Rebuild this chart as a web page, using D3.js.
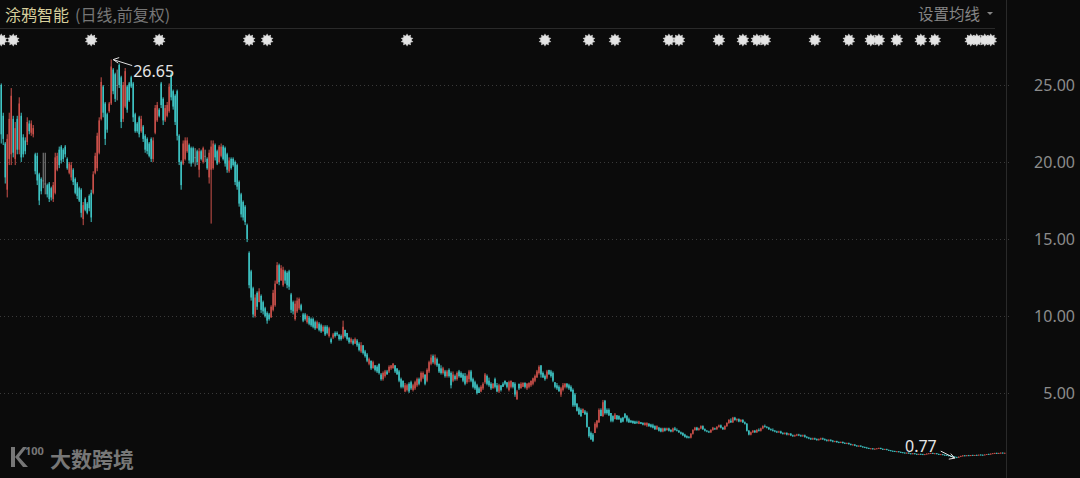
<!DOCTYPE html>
<html><head><meta charset="utf-8">
<script src="https://cdn.jsdelivr.net/npm/d3@7"></script>
<style>html,body{margin:0;padding:0;background:#0b0b0b;overflow:hidden}</style>
</head><body><svg id="c" width="1080" height="478"></svg>
<script>
const titleName = "涂鸦智能";
const titleNote = "(日线,前复权)";
const maSetting = "设置均线";
const watermark = "大数跨境";
const yTickValues = [5, 10, 15, 20, 25];
// candle indices carrying an event marker
const eventIdx = [0, 6, 45, 79, 124, 133, 203, 272, 294, 307, 334, 339, 359, 371, 378, 382, 407, 424, 435, 439, 448, 460, 467, 485, 488, 492, 495];
// daily candles: [open, high, low, close]
const candles = [
[25.0,25.1,21.2,21.8],[23.0,23.2,21.1,21.5],[21.2,21.3,18.6,19.0],[18.2,21.8,17.7,21.5],[20.2,23.2,19.8,22.8],
[20.5,24.8,19.8,24.3],[22.8,23.0,20.3,20.6],[20.2,22.6,19.8,22.2],[22.8,23.0,20.5,20.8],[20.8,24.2,20.5,23.8],
[23.0,23.2,20.0,20.3],[21.6,21.8,20.3,20.5],[21.4,21.6,20.5,20.7],[21.3,22.9,21.1,22.6],[22.5,22.7,21.8,22.0],
[21.9,22.7,21.7,22.5],[21.8,22.4,21.6,22.2],[20.5,20.6,19.2,19.4],[20.4,20.6,18.5,18.8],[19.2,19.3,17.2,17.5],
[18.9,19.0,17.9,18.1],[18.8,20.6,18.3,18.8],[18.6,20.6,17.9,18.6],[18.5,18.6,17.7,17.9],[18.6,18.7,17.4,17.6],
[18.3,18.4,17.5,17.7],[17.6,18.7,17.4,18.5],[18.0,20.6,17.9,20.3],[19.5,20.6,19.4,20.4],[20.8,21.0,19.6,19.8],
[21.0,21.1,19.9,20.1],[20.8,20.9,20.0,20.2],[21.0,21.1,20.3,20.5],[20.2,20.3,19.5,19.6],[19.3,20.0,19.2,19.9],
[19.0,20.0,18.8,19.8],[19.5,19.6,18.5,18.7],[18.9,19.0,17.9,18.0],[18.6,18.7,17.6,17.8],[18.3,18.4,17.4,17.5],
[18.2,18.3,16.4,16.7],[16.3,17.4,15.9,17.2],[17.6,17.7,16.8,16.9],[17.3,17.4,16.6,16.7],[17.8,17.9,16.8,17.0],
[18.0,18.2,16.1,16.4],[18.0,19.4,17.9,19.2],[19.3,20.6,19.2,20.4],[19.6,21.9,19.4,21.7],[20.6,22.9,20.5,22.7],
[22.8,25.5,22.7,25.2],[24.9,25.0,22.9,23.2],[23.8,23.9,21.1,21.5],[23.1,23.2,21.9,22.1],[23.3,23.9,23.2,23.8],
[23.8,26.65,23.7,26.2],[26.0,26.1,24.4,24.6],[25.7,25.8,23.9,24.1],[25.0,26.0,24.0,25.0],[26.3,26.4,24.8,25.0],
[25.5,25.6,22.2,22.6],[22.8,25.2,22.6,25.0],[23.6,26.1,23.5,25.9],[24.9,25.0,23.2,23.4],[25.1,25.2,23.9,24.0],
[25.5,25.6,24.8,24.9],[25.1,25.2,22.6,22.9],[23.1,23.2,21.9,22.0],[22.5,22.6,21.9,22.0],[22.9,23.0,21.6,21.8],
[22.0,23.0,21.9,22.8],[22.3,22.4,21.3,21.5],[21.7,21.8,20.6,20.8],[21.5,21.6,20.5,20.7],[21.2,21.3,20.3,20.4],
[21.5,21.6,20.0,20.2],[20.2,21.6,20.0,21.4],[21.9,23.7,21.8,23.5],[22.7,23.9,22.6,23.7],[23.4,23.5,22.9,23.0],
[25.1,25.2,23.5,23.7],[24.1,24.2,22.4,22.7],[22.7,23.7,22.6,23.5],[23.0,23.9,22.9,23.7],
[23.3,25.1,23.2,24.9],[25.7,25.8,24.0,24.2],[24.6,24.7,23.4,23.6],[24.3,24.4,22.4,22.6],[24.6,24.7,21.4,21.7],
[21.7,21.8,19.8,20.0],[20.0,20.1,18.2,18.5],[19.9,21.4,19.8,21.2],[20.2,21.6,20.1,21.4],[20.7,21.6,20.6,21.4],
[21.1,21.2,19.9,20.1],[20.9,21.0,19.7,19.9],[20.9,21.0,19.9,20.0],[20.3,20.9,19.7,20.3],[20.7,20.8,19.8,20.0],
[19.5,20.9,19.0,20.7],[20.7,20.8,20.1,20.2],[20.0,21.0,19.9,20.9],[20.4,20.8,20.0,20.4],[20.2,20.3,19.5,19.6],
[19.0,20.8,18.6,20.6],[19.5,21.4,16.0,21.0],[19.6,21.4,19.5,21.2],[21.1,21.2,20.1,20.3],[20.7,20.8,19.8,19.9],
[20.0,21.1,19.9,21.0],[20.4,21.2,20.3,21.0],[21.0,21.1,20.1,20.2],[20.9,21.0,19.7,19.9],[20.5,20.6,19.3,19.5],
[19.4,20.3,19.3,20.1],[20.2,20.3,19.5,19.6],[20.2,20.3,19.7,19.8],[20.0,20.1,18.5,18.7],[19.8,19.9,18.2,18.4],
[18.7,18.8,17.1,17.3],[17.9,18.0,16.4,16.6],[17.4,17.5,16.2,16.4],[17.1,17.2,15.9,16.1],[15.9,16.0,14.8,15.0],
[14.1,14.2,11.8,12.0],[12.9,13.0,11.0,11.2],[11.8,11.9,9.9,10.1],[10.0,11.4,9.9,11.2],[11.5,11.6,10.4,10.6],
[10.9,11.8,10.9,11.6],[11.3,11.4,10.2,10.4],[10.9,11.0,10.1,10.3],[10.5,10.6,9.9,10.0],[10.2,10.3,9.5,9.7],
[10.1,10.2,9.7,9.8],[9.9,10.7,9.9,10.6],[10.4,11.7,10.3,11.5],[10.7,12.3,10.6,12.1],[12.1,13.5,12.1,13.3],
[13.3,13.4,12.0,12.2],[12.3,13.3,12.3,13.1],[12.0,13.2,11.9,13.0],[12.9,13.0,12.1,12.3],[12.8,12.9,11.8,12.0],
[12.9,13.0,11.7,11.9],[11.4,11.5,10.2,10.4],[10.9,11.0,10.1,10.3],[9.8,11.0,9.7,10.8],[10.3,11.2,10.2,11.0],
[10.5,11.2,10.4,11.1],[10.7,10.8,10.3,10.4],[10.1,10.2,9.6,9.7],[10.1,10.2,9.7,9.8],[9.6,10.1,9.5,10.0],
[9.9,10.0,9.4,9.5],[9.8,9.9,9.3,9.4],[9.8,9.9,9.2,9.3],[9.6,9.7,9.1,9.2],[9.2,9.7,9.2,9.6],
[9.5,9.6,9.0,9.1],[9.4,9.5,8.9,9.0],[9.0,9.4,9.0,9.3],[9.3,9.4,8.7,8.8],[9.3,9.4,8.8,8.9],
[8.7,9.3,8.6,9.2],
[8.5,8.6,8.2,8.3],[8.6,8.9,8.5,8.8],[8.9,9.0,8.6,8.7],[8.9,9.0,8.7,8.8],[8.8,8.8,8.4,8.5],
[8.7,8.8,8.4,8.5],[8.6,9.7,8.5,9.3],[9.1,9.1,8.6,8.7],[8.9,8.9,8.4,8.5],[8.6,8.6,8.2,8.3],
[8.3,8.6,8.2,8.5],[8.4,8.5,8.1,8.2],[8.2,8.6,8.2,8.5],[8.4,8.5,8.0,8.1],[8.2,8.3,7.7,7.8],
[7.7,8.3,7.6,8.1],[8.1,8.1,7.5,7.6],[7.7,7.8,7.3,7.4],[7.5,7.6,7.0,7.1],[6.9,7.3,6.8,7.2],
[7.1,7.1,6.5,6.6],[6.6,7.1,6.6,7.0],[6.8,6.8,6.4,6.5],[6.7,6.8,6.3,6.4],[6.9,6.9,6.2,6.3],
[6.2,6.3,5.8,5.9],[5.9,6.4,5.8,6.3],[6.1,6.5,6.0,6.4],[6.4,6.5,6.2,6.2],[6.4,6.8,6.3,6.7],
[6.6,6.8,6.5,6.8],[6.6,6.95,6.6,6.9],[6.8,6.8,6.3,6.4],[6.6,6.6,6.2,6.2],[6.4,6.5,5.7,5.8],
[5.9,6.0,5.3,5.4],[5.8,5.8,5.3,5.4],[5.1,5.65,5.05,5.5],[5.2,5.6,5.1,5.5],[5.6,5.7,5.0,5.1],
[5.7,5.8,5.2,5.3],[5.2,5.6,5.1,5.5],[5.3,5.8,5.2,5.7],[5.5,6.0,5.4,5.9],[5.9,6.0,5.5,5.6],
[5.8,6.4,5.7,6.3],[6.0,6.4,5.9,6.3],[6.2,6.2,5.5,5.6],[5.8,6.6,5.7,6.5],[6.4,7.1,6.3,7.0],
[6.9,7.5,6.8,7.3],[7.4,7.5,6.9,7.0],[6.9,7.5,6.8,7.3],[7.2,7.3,6.7,6.8],[6.9,6.9,6.3,6.4],
[6.6,6.8,6.2,6.3],[6.3,6.7,6.2,6.6],[6.4,6.5,6.0,6.1],[6.1,6.5,6.0,6.4],[6.5,6.6,6.0,6.1],
[6.3,6.4,5.3,5.5],[5.8,6.4,5.7,6.2],[6.1,6.2,5.8,5.9],[5.9,6.4,5.8,6.3],[6.4,6.5,6.0,6.1],
[6.3,6.4,6.0,6.0],[6.2,6.3,5.7,5.8],[6.1,6.3,5.5,5.6],[5.7,6.2,5.6,6.1],[5.9,6.5,5.7,6.4],
[6.4,6.5,5.7,5.8],[5.9,6.0,5.3,5.4],[5.7,5.8,5.2,5.3],[5.5,5.6,4.9,5.0],[5.3,5.4,5.0,5.0],
[5.1,5.5,5.05,5.4],[5.3,5.7,5.2,5.6],[5.7,6.3,5.6,6.2],[6.1,6.2,5.5,5.6],[5.8,6.0,5.4,5.5],
[5.6,5.7,5.2,5.3],[5.3,5.65,5.3,5.6],[5.9,6.0,5.3,5.4],[5.5,5.65,5.05,5.1],[5.1,5.6,5.0,5.5],
[5.5,5.5,5.1,5.2],[5.6,5.7,5.4,5.4],[5.8,5.8,5.5,5.6],[5.7,5.7,5.3,5.4],[5.2,5.8,5.1,5.7],
[5.4,5.8,5.3,5.8],[5.7,5.7,5.3,5.4],[5.6,5.7,4.75,4.9],[4.6,5.2,4.55,5.1],[5.6,5.6,5.2,5.3],
[5.3,5.7,5.3,5.6],[5.4,5.7,5.4,5.65],[5.65,5.7,5.3,5.4],[5.3,5.65,5.2,5.6],[5.4,5.7,5.3,5.65],
[5.5,5.8,5.4,5.8],[5.6,6.0,5.5,5.95],[5.8,6.2,5.7,6.1],[6.0,6.5,6.0,6.4],[6.3,6.8,6.2,6.7],
[6.8,6.8,6.0,6.2],[6.3,6.4,6.0,6.0],[6.1,6.2,5.8,5.9],[6.0,6.5,5.9,6.4],[6.5,6.5,6.2,6.2],
[6.4,6.5,6.0,6.1],[6.3,6.4,5.7,5.8],[5.7,5.7,5.3,5.4],[5.5,5.65,5.2,5.3],[5.4,5.5,5.1,5.1],
[4.9,5.4,4.75,5.3],[5.2,5.65,5.1,5.5],[5.4,5.65,5.3,5.6],[5.6,5.65,5.3,5.4],[5.5,5.6,5.2,5.3],
[5.4,5.5,5.1,5.1],[5.2,5.3,4.1,4.2],[4.9,5.0,4.1,4.2],[4.3,4.35,3.8,3.85],[4.0,4.1,3.6,3.6],
[3.9,4.0,3.45,3.5],[3.7,4.0,3.7,3.95],[3.8,3.9,3.6,3.6],[3.7,3.8,2.75,2.8],[2.8,2.8,2.1,2.2],
[2.4,2.5,1.95,2.0],[2.3,2.4,1.82,1.9],[2.4,3.1,2.4,3.0],[2.8,3.25,2.7,3.2],[3.1,4.0,3.05,3.9],
[3.9,4.0,3.5,3.5],[3.5,4.55,3.45,4.4],[4.5,4.55,3.6,3.7],[3.9,4.0,3.6,3.7],[3.9,4.0,3.5,3.55],
[3.7,3.7,3.1,3.2],[3.5,3.55,3.1,3.2],[3.3,3.7,3.3,3.6],[3.55,3.57,3.25,3.3],[3.5,3.55,3.25,3.3],
[3.35,3.4,3.05,3.1],[3.4,3.45,3.1,3.15],[3.65,3.7,3.35,3.4],[3.5,3.57,3.1,3.2],[3.3,3.4,3.05,3.1],
[3.2,3.25,3.05,3.1],[3.2,3.2,3.0,3.05],[3.15,3.2,3.0,3.0],[3.1,3.2,3.0,3.05],[3.0,3.2,2.98,3.15],
[3.1,3.12,2.98,3.0],[3.05,3.1,2.9,2.95],[2.9,3.1,2.9,3.05],[2.9,3.1,2.8,3.05],[3.0,3.05,2.8,2.85],
[2.95,3.0,2.75,2.8],[2.9,3.0,2.7,2.75],[2.85,2.9,2.6,2.65],[2.65,2.9,2.6,2.85],[2.75,2.8,2.5,2.55],
[2.7,2.75,2.45,2.5],[2.5,2.75,2.45,2.7],
[2.7,2.75,2.5,2.55],[2.6,2.75,2.55,2.7],[2.7,2.75,2.5,2.55],[2.6,2.65,2.45,2.5],[2.5,2.75,2.45,2.7],
[2.7,2.8,2.55,2.6],[2.6,2.7,2.5,2.55],[2.55,2.6,2.4,2.45],[2.45,2.5,2.3,2.35],[2.4,2.45,2.2,2.25],
[2.3,2.35,2.1,2.15],[2.2,2.25,2.05,2.1],[2.15,2.2,2.05,2.1],[2.1,2.4,2.05,2.35],[2.35,2.65,2.3,2.6],
[2.6,2.8,2.55,2.75],[2.75,2.8,2.55,2.6],[2.6,2.75,2.55,2.7],[2.7,2.9,2.65,2.85],[2.85,2.9,2.6,2.65],
[2.65,2.7,2.5,2.55],[2.55,2.6,2.45,2.5],[2.5,2.55,2.4,2.45],[2.45,2.65,2.4,2.6],[2.6,2.8,2.55,2.75],
[2.7,2.75,2.6,2.65],[2.65,2.85,2.6,2.8],[2.8,2.95,2.75,2.9],[2.9,2.95,2.7,2.75],[2.75,2.8,2.6,2.65],
[2.65,2.9,2.6,2.85],[2.85,3.1,2.8,3.05],[3.05,3.3,3.0,3.25],[3.2,3.35,3.05,3.1],[3.1,3.45,3.05,3.4],
[3.4,3.45,3.2,3.25],[3.25,3.35,3.15,3.3],[3.3,3.35,3.1,3.15],[3.15,3.3,3.1,3.25],[3.25,3.3,3.05,3.1],
[3.1,3.15,2.95,3.0],[3.0,3.05,2.5,2.55],[2.55,2.6,2.25,2.3],[2.3,2.5,2.25,2.45],[2.45,2.6,2.4,2.55],
[2.55,2.6,2.4,2.45],[2.45,2.65,2.4,2.6],[2.6,2.7,2.5,2.55],[2.55,2.75,2.5,2.7],[2.7,2.9,2.65,2.85],
[2.85,2.95,2.75,2.8],[2.8,2.85,2.7,2.75],[2.75,2.8,2.6,2.65],[2.65,2.7,2.55,2.6],[2.6,2.7,2.5,2.55],
[2.55,2.6,2.45,2.5],[2.5,2.55,2.4,2.45],[2.45,2.55,2.4,2.5],[2.5,2.55,2.35,2.4],[2.4,2.45,2.3,2.35],
[2.35,2.45,2.3,2.4],[2.4,2.45,2.25,2.3],[2.3,2.4,2.25,2.35],[2.35,2.4,2.2,2.25],[2.25,2.3,2.15,2.2],
[2.2,2.3,2.15,2.25],[2.25,2.35,2.2,2.3],[2.3,2.35,2.2,2.25],[2.25,2.3,2.15,2.2],[2.2,2.3,2.15,2.25],
[2.25,2.3,2.1,2.15],[2.15,2.2,2.05,2.1],[2.1,2.15,2.0,2.05],[2.05,2.1,1.95,2.0],[2.0,2.1,1.95,2.05],
[2.05,2.1,1.95,2.0],[2.0,2.05,1.9,1.95],[1.95,2.05,1.9,2.0],[2.0,2.1,1.95,2.05],[2.05,2.1,1.95,2.0],
[2.0,2.05,1.9,1.95],[1.95,2.0,1.85,1.9],[1.9,2.0,1.85,1.95],[1.95,2.0,1.85,1.9],[1.9,1.95,1.8,1.85],
[1.85,1.9,1.8,1.88],[1.88,1.9,1.78,1.8],[1.8,1.85,1.75,1.78],[1.78,1.85,1.75,1.82],[1.82,1.85,1.72,1.75],
[1.75,1.8,1.7,1.72],[1.72,1.78,1.68,1.75],[1.75,1.78,1.65,1.68],[1.68,1.72,1.6,1.62],[1.62,1.68,1.6,1.65],
[1.65,1.68,1.55,1.58],[1.58,1.62,1.52,1.55],[1.55,1.6,1.5,1.58],[1.58,1.6,1.5,1.52],[1.52,1.55,1.45,1.48],
[1.48,1.52,1.42,1.45],[1.45,1.5,1.4,1.42],[1.42,1.45,1.36,1.38],[1.38,1.42,1.35,1.4],[1.4,1.42,1.33,1.35],
[1.35,1.4,1.32,1.38],[1.38,1.42,1.35,1.4],[1.4,1.45,1.37,1.43],[1.43,1.45,1.35,1.37],[1.37,1.4,1.3,1.32],
[1.32,1.38,1.3,1.35],[1.35,1.38,1.28,1.3],[1.3,1.33,1.25,1.27],[1.27,1.3,1.22,1.24],[1.24,1.27,1.2,1.22],
[1.22,1.25,1.17,1.19],[1.19,1.23,1.16,1.21],[1.21,1.23,1.14,1.16],[1.16,1.2,1.12,1.14],[1.14,1.17,1.1,1.12],
[1.12,1.15,1.08,1.1],[1.1,1.14,1.07,1.12],[1.12,1.14,1.05,1.07],[1.07,1.1,1.03,1.05],[1.05,1.1,1.02,1.08],
[1.08,1.1,1.02,1.04],[1.04,1.07,1.0,1.02],[1.02,1.06,0.99,1.04],[1.04,1.07,1.0,1.02],[1.02,1.05,0.98,1.0],
[1.0,1.04,0.97,1.02],[1.02,1.08,1.0,1.06],[1.06,1.1,1.03,1.08],[1.08,1.12,1.05,1.1],[1.1,1.12,1.04,1.06],
[1.06,1.1,1.03,1.08],[1.08,1.1,1.02,1.04],[1.04,1.06,0.98,1.0],[1.0,1.04,0.97,1.02],[1.02,1.04,0.96,0.98],
[0.98,1.01,0.94,0.96],[0.96,0.99,0.92,0.94],[0.94,0.97,0.9,0.92],[0.92,0.95,0.87,0.89],[0.89,0.92,0.84,0.86],
[0.86,0.9,0.8,0.83],[0.83,0.86,0.77,0.8],[0.8,0.88,0.78,0.86],[0.86,0.93,0.84,0.91],[0.91,0.96,0.88,0.94],
[0.94,0.97,0.9,0.92],[0.92,0.97,0.9,0.95],[0.95,0.98,0.91,0.93],[0.93,0.97,0.9,0.96],[0.96,0.99,0.93,0.95],
[0.95,0.98,0.92,0.97],[0.97,1.0,0.94,0.96],[0.96,1.0,0.94,0.99],[0.99,1.02,0.96,0.98],[0.98,1.01,0.95,0.97],
[0.97,1.02,0.95,1.0],[1.0,1.04,0.98,1.03],[1.03,1.06,1.0,1.02],[1.02,1.07,1.0,1.06],[1.06,1.1,1.04,1.08],
[1.08,1.12,1.05,1.1],[1.1,1.13,1.06,1.08],[1.08,1.12,1.05,1.1],[1.1,1.14,1.07,1.12],[1.12,1.14,1.08,1.1],
[1.1,1.13,1.07,1.11]
];

const W = 1080, H = 478;
const plotRight = 1006;
const svg = d3.select("#c");
const BG = "#0b0b0b", UP = "#cc514b", DOWN = "#3fc6c6", FLAT = "#8a8a8a", LINE = "#2a2a2a";
const numFont = "'Noto Sans', 'DejaVu Sans', sans-serif";
const cjkFont = "'Noto Sans CJK SC', 'Noto Sans', sans-serif";

svg.append("rect").attr("width", W).attr("height", H).attr("fill", BG);

const x = d3.scaleBand().domain(d3.range(candles.length)).range([0, plotRight]).padding(0.25);
const y = d3.scaleLinear().domain([0, 25]).range([470, 85]);

// grid lines
svg.append("g").selectAll("line").data(yTickValues).join("line")
  .attr("x1", 0).attr("x2", plotRight + 6)
  .attr("y1", d => Math.round(y(d)) + 0.5).attr("y2", d => Math.round(y(d)) + 0.5)
  .attr("stroke", "#3a3a3a").attr("stroke-dasharray", "1,3");

// frame lines
svg.append("line").attr("x1", 0).attr("x2", 995).attr("y1", 28.5).attr("y2", 28.5).attr("stroke", LINE);
svg.append("line").attr("x1", plotRight + 0.5).attr("x2", plotRight + 0.5).attr("y1", 0).attr("y2", H).attr("stroke", LINE);

// y axis
const yAxis = d3.axisRight(y).tickValues(yTickValues).tickFormat(d3.format(".2f")).tickSize(0);
const ag = svg.append("g").attr("transform", `translate(${plotRight},0)`).call(yAxis);
ag.select(".domain").remove();
ag.selectAll("text").attr("x", 69).attr("text-anchor", "end").attr("fill", "#8c8c8c")
  .style("font-family", numFont).style("font-size", "16px");

// candles
const color = d => d[3] > d[0] ? UP : (d[3] < d[0] ? DOWN : FLAT);
const cg = svg.append("g");
const cx = i => x(i) + x.bandwidth() / 2;
cg.selectAll("line").data(candles).join("line")
  .attr("x1", (d, i) => cx(i)).attr("x2", (d, i) => cx(i))
  .attr("y1", d => y(d[1])).attr("y2", d => y(d[2]))
  .attr("stroke", color).attr("stroke-width", 1);
cg.selectAll("rect").data(candles).join("rect")
  .attr("x", (d, i) => x(i)).attr("width", x.bandwidth())
  .attr("y", d => y(Math.max(d[0], d[3])))
  .attr("height", d => Math.max(0.8, Math.abs(y(d[0]) - y(d[3]))))
  .attr("fill", color);

// event markers
const starPath = (() => {
  const pts = [];
  const n = 10;
  for (let k = 0; k < n * 2; k++) {
    const r = k % 2 === 0 ? 6.6 : 4.4;
    const a = Math.PI * k / n;
    pts.push([r * Math.sin(a), -r * Math.cos(a)]);
  }
  return "M" + pts.map(p => p.join(",")).join("L") + "Z";
})();
svg.append("g").selectAll("path").data(eventIdx).join("path")
  .attr("d", starPath)
  .attr("transform", i => `translate(${Math.max(1, cx(i))},40)`)
  .attr("fill", "#d2d2d2");
svg.append("g").selectAll("circle").data(eventIdx).join("circle")
  .attr("cx", i => Math.max(1, cx(i))).attr("cy", 40).attr("r", 4).attr("fill", "#e4e4e4");

// header texts
const ht = svg.append("text").attr("x", 5).attr("y", 21).style("font-family", cjkFont).style("font-size", "16px");
ht.append("tspan").attr("fill", "#d7cf9c").text(titleName);
ht.append("tspan").attr("fill", "#767676").attr("dx", 6).text(titleNote);
svg.append("text").attr("x", 980).attr("y", 20).attr("text-anchor", "end")
  .style("font-family", cjkFont).style("font-size", "15.5px").attr("fill", "#858585").text(maSetting);
svg.append("path").attr("d", "M987,12L993,12L990,15Z").attr("fill", "#858585");

// max / min annotations
const hiIdx = d3.maxIndex(candles, d => d[1]);
const loIdx = d3.minIndex(candles, d => d[2]);
const hiX = cx(hiIdx), hiY = y(candles[hiIdx][1]);
const loX = cx(loIdx), loY = y(candles[loIdx][2]);
const ann = svg.append("g").attr("stroke", "#e0e0e0").attr("fill", "none").attr("stroke-width", 1);
ann.append("line").attr("x1", hiX + 2).attr("y1", hiY).attr("x2", hiX + 21).attr("y2", hiY + 6);
ann.append("path").attr("d", `M${hiX + 8},${hiY - 2}L${hiX + 2},${hiY}L${hiX + 7},${hiY + 3.5}`);
ann.append("line").attr("x1", loX - 2).attr("y1", loY).attr("x2", loX - 16).attr("y2", loY - 7);
ann.append("path").attr("d", `M${loX - 8},${loY + 1}L${loX - 2},${loY}L${loX - 6},${loY - 4.5}`);
svg.append("text").attr("x", hiX + 22).attr("y", hiY + 17).attr("fill", "#e6e6e6")
  .style("font-family", numFont).style("font-size", "16px").text(d3.format(".2f")(candles[hiIdx][1]));
svg.append("text").attr("x", loX - 20).attr("y", loY - 6).attr("text-anchor", "end").attr("fill", "#e6e6e6")
  .style("font-family", numFont).style("font-size", "16px").text(d3.format(".2f")(candles[loIdx][2]));

// watermark
const wm = svg.append("g").attr("fill", "#777777");
wm.append("path").attr("d", "M11,447h4v20h-4z M15,457 L23,447 L27,447 L19,457 L28,467 L23,467 Z");
wm.append("text").attr("x", 25).attr("y", 455).style("font-family", numFont).style("font-size", "11px").style("font-weight", "bold").text("100");
wm.append("text").attr("x", 50).attr("y", 467).style("font-family", cjkFont).style("font-size", "21px").style("font-weight", "bold").text(watermark);
</script>
</body></html>
